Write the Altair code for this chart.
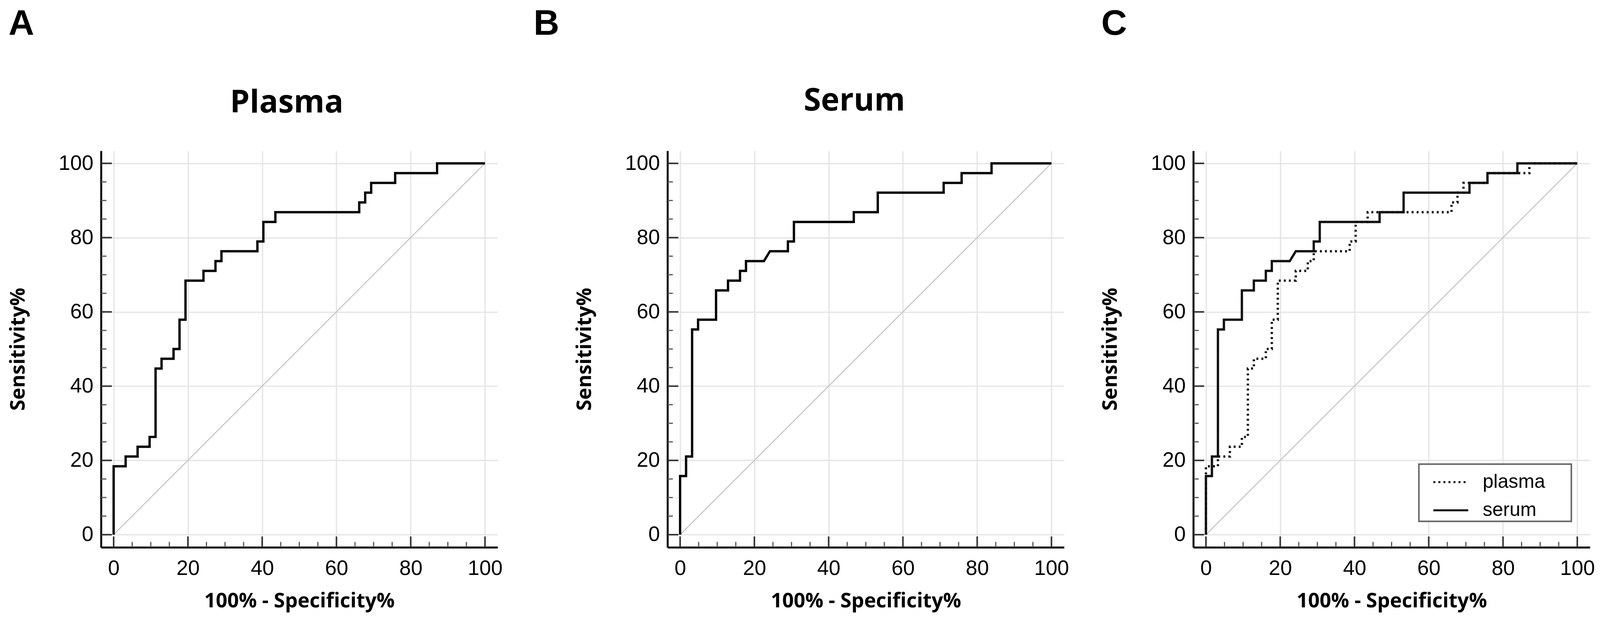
import altair as alt
import pandas as pd

# ---------------- data ----------------
# ROC vertices: 100% - Specificity% (x) and Sensitivity% (y)
PLASMA_FPR = [0, 0, 3.23, 3.23, 6.45, 6.45, 9.68, 9.68, 11.29, 11.29, 12.90, 12.90,
              16.13, 16.13, 17.74, 17.74, 19.35, 19.35, 24.19, 24.19, 27.42, 27.42,
              29.03, 29.03, 38.71, 38.71, 40.32, 40.32, 43.55, 43.55, 66.13, 66.13,
              67.74, 67.74, 69.35, 69.35, 75.81, 75.81, 87.10, 87.10, 100]
PLASMA_SENS = [0, 18.42, 18.42, 21.05, 21.05, 23.68, 23.68, 26.32, 26.32, 44.74, 44.74, 47.37,
               47.37, 50.00, 50.00, 57.89, 57.89, 68.42, 68.42, 71.05, 71.05, 73.68,
               73.68, 76.32, 76.32, 78.95, 78.95, 84.21, 84.21, 86.84, 86.84, 89.47,
               89.47, 92.11, 92.11, 94.74, 94.74, 97.37, 97.37, 100, 100]

SERUM_FPR = [0, 0, 1.61, 1.61, 3.23, 3.23, 4.84, 4.84, 9.68, 9.68, 12.90, 12.90,
             16.13, 16.13, 17.74, 17.74, 22.58, 24.19, 29.03, 29.03, 30.65, 30.65,
             46.77, 46.77, 53.23, 53.23, 70.97, 70.97, 75.81, 75.81, 83.87, 83.87, 100]
SERUM_SENS = [0, 15.79, 15.79, 21.05, 21.05, 55.26, 55.26, 57.89, 57.89, 65.79, 65.79, 68.42,
              68.42, 71.05, 71.05, 73.68, 73.68, 76.32, 76.32, 78.95, 78.95, 84.21,
              84.21, 86.84, 86.84, 92.11, 92.11, 94.74, 94.74, 97.37, 97.37, 100, 100]

DIAG_FPR = [0, 100]
DIAG_SENS = [0, 100]

MAJOR_TICKS = [0, 20, 40, 60, 80, 100]
MINOR_TICKS = [5, 10, 15, 25, 30, 35, 45, 50, 55, 65, 70, 75, 85, 90, 95]

SERIES = ["plasma", "serum"]
PANEL_LETTERS = ["A", "B", "C"]
PANEL_TITLES = ["Plasma", "Serum", ""]

# ---------------- styling ----------------
W = H = 1025
DOM = [-3.4, 103.4]
LABEL_FONT = "Liberation Sans"
TITLE_FONT = "Open Sans"

x_axis = alt.Axis(values=MAJOR_TICKS, title="100% - Specificity%", format="d",
                  labelFont=LABEL_FONT, labelFontSize=54, labelColor="#000",
                  labelPadding=28, labelFlush=False, labelOverlap=False,
                  ticks=False, domainColor="#000", domainWidth=5,
                  grid=True, gridColor="#e6e6e6", gridWidth=3.5,
                  titleFont=TITLE_FONT, titleFontSize=52, titleFontWeight="bold",
                  titleColor="#000", titlePadding=32)
y_axis = alt.Axis(values=MAJOR_TICKS, title="Sensitivity%", format="d",
                  labelFont=LABEL_FONT, labelFontSize=54, labelColor="#000",
                  labelPadding=20, labelFlush=False, labelOverlap=False,
                  ticks=False, domainColor="#000", domainWidth=5,
                  grid=True, gridColor="#e6e6e6", gridWidth=3.5,
                  titleFont=TITLE_FONT, titleFontSize=52, titleFontWeight="bold",
                  titleColor="#000", titlePadding=77)

X = alt.X("fpr:Q", scale=alt.Scale(domain=DOM, nice=False, zero=False), axis=x_axis)
Y = alt.Y("sens:Q", scale=alt.Scale(domain=DOM, nice=False, zero=False), axis=y_axis)


def tick_layers():
    out = []
    for vals, ln, col, w in [(MINOR_TICKS, 14, "#555", 3), (MAJOR_TICKS, 28, "#333", 4)]:
        dx = pd.DataFrame({"fpr": vals})
        dy = pd.DataFrame({"sens": vals})
        out.append(alt.Chart(dx).mark_rule(color=col, strokeWidth=w).encode(
            x=X, y=alt.value(H), y2=alt.value(H - ln)))
        out.append(alt.Chart(dy).mark_rule(color=col, strokeWidth=w).encode(
            y=Y, x=alt.value(0), x2=alt.value(ln)))
    return out


def diag():
    d = pd.DataFrame({"fpr": DIAG_FPR, "sens": DIAG_SENS})
    return alt.Chart(d).mark_line(color="#c2c2c2", strokeWidth=2.5).encode(x=X, y=Y)


def texts(letter, letter_dx, title, title_dx, title_dy):
    layers = []
    dl = pd.DataFrame({"t": [letter]})
    layers.append(alt.Chart(dl).mark_text(font=LABEL_FONT, fontSize=92, fontWeight="bold",
                                          align="left", baseline="alphabetic", color="#000").encode(
        text="t:N", x=alt.value(letter_dx), y=alt.value(-300)))
    if title:
        dt = pd.DataFrame({"t": [title]})
        layers.append(alt.Chart(dt).mark_text(font=TITLE_FONT, fontSize=81, fontWeight="bold",
                                              align="center", baseline="alphabetic", color="#000").encode(
            text="t:N", x=alt.value(title_dx), y=alt.value(title_dy)))
    return layers


def curve(fpr, sens):
    d = pd.DataFrame({"fpr": fpr, "sens": sens, "i": range(len(fpr))})
    return alt.Chart(d).mark_line(color="#000", strokeWidth=6, strokeJoin="miter").encode(
        x=X, y=Y, order=alt.Order("i:Q"))


panel_a = alt.layer(*tick_layers(), diag(), curve(PLASMA_FPR, PLASMA_SENS),
                    *texts(PANEL_LETTERS[0], -239, PANEL_TITLES[0], 480, -99)
                    ).properties(width=W, height=H)

panel_b = alt.layer(*tick_layers(), diag(), curve(SERUM_FPR, SERUM_SENS),
                    *texts(PANEL_LETTERS[1], -346, PANEL_TITLES[1], 483, -104)
                    ).properties(width=W, height=H)

both = pd.concat([
    pd.DataFrame({"fpr": PLASMA_FPR, "sens": PLASMA_SENS, "series": SERIES[0],
                  "i": range(len(PLASMA_FPR))}),
    pd.DataFrame({"fpr": SERUM_FPR, "sens": SERUM_SENS, "series": SERIES[1],
                  "i": range(len(SERUM_FPR))}),
])
legend = alt.Legend(orient="none", legendX=3418, legendY=809, title=None,
                    padding=0,
                    symbolType="stroke", symbolSize=8100, symbolStrokeWidth=5,
                    symbolStrokeColor="#000", symbolOffset=23,
                    labelFont=LABEL_FONT, labelFontSize=50, labelLimit=600,
                    labelColor="#000", labelOffset=35)
roc_c = alt.Chart(both).mark_line(color="#111", strokeWidth=6).encode(
    x=X, y=Y, order=alt.Order("i:Q"),
    strokeDash=alt.StrokeDash("series:N",
                              scale=alt.Scale(domain=SERIES, range=[[5, 8], [1, 0]]),
                              legend=legend))

# frame drawn behind the legend entries
legend_frame = alt.Chart(pd.DataFrame({"k": [0]})).mark_rect(
    fill="#ffffff", stroke="#666666", strokeWidth=4).encode(
    x=alt.value(583), x2=alt.value(977), y=alt.value(810), y2=alt.value(958))

panel_c = alt.layer(*tick_layers(), diag(), roc_c, legend_frame,
                    *texts(PANEL_LETTERS[2], -238, PANEL_TITLES[2], 480, -99)
                    ).properties(width=W, height=H)

chart = alt.hconcat(panel_a, panel_b, panel_c, spacing=80).properties(
    padding={"left": 12, "top": 0, "right": 5, "bottom": 5},
    background="#ffffff",
).configure_view(strokeWidth=0).configure_legend(rowPadding=-45)

chart.save("out.html", embed_options={"renderer": "svg", "actions": False})
